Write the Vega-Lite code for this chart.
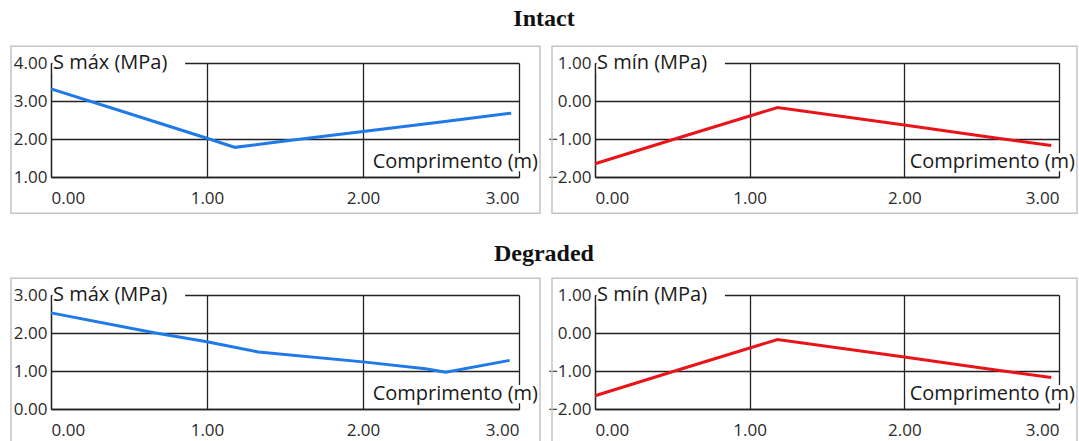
{
  "$schema": "https://vega.github.io/schema/vega-lite/v6.json",
  "padding": {"left": 10, "top": 6, "right": 4, "bottom": 0},
  "background": "white",
  "spacing": 26,
  "config": {
    "view": {"stroke": null},
    "font": "Open Sans",
    "axis": {
      "labelFont": "Open Sans", "labelFontSize": 17, "labelColor": "#2a2a2a",
      "grid": true, "gridColor": "#222222", "gridWidth": 1.3, "gridOpacity": 1,
      "domain": true, "domainColor": "#222222", "domainWidth": 1.3,
      "ticks": false, "title": null, "format": ".2f", "labelOverlap": false
    },
    "axisX": {"labelPadding": 13},
    "axisY": {"labelPadding": 4},
    "text": {"font": "Open Sans", "fontSize": 20, "color": "#1a1a1a"}
  },
  "datasets": {
    "intact_max": [
      {"comprimento": 0.0, "tensao": 3.32},
      {"comprimento": 0.5, "tensao": 2.67},
      {"comprimento": 1.0, "tensao": 2.02},
      {"comprimento": 1.18, "tensao": 1.78},
      {"comprimento": 1.5, "tensao": 1.95},
      {"comprimento": 2.0, "tensao": 2.2},
      {"comprimento": 2.5, "tensao": 2.45},
      {"comprimento": 2.95, "tensao": 2.68}
    ],
    "intact_min": [
      {"comprimento": 0.0, "tensao": -1.65},
      {"comprimento": 0.5, "tensao": -1.02},
      {"comprimento": 1.18, "tensao": -0.17},
      {"comprimento": 2.0, "tensao": -0.63},
      {"comprimento": 2.5, "tensao": -0.92},
      {"comprimento": 2.95, "tensao": -1.17}
    ],
    "degraded_max": [
      {"comprimento": 0.0, "tensao": 2.53},
      {"comprimento": 0.67, "tensao": 2.0},
      {"comprimento": 1.0, "tensao": 1.77},
      {"comprimento": 1.33, "tensao": 1.5},
      {"comprimento": 2.0, "tensao": 1.24},
      {"comprimento": 2.4, "tensao": 1.06},
      {"comprimento": 2.53, "tensao": 0.97},
      {"comprimento": 2.94, "tensao": 1.28}
    ],
    "degraded_min": [
      {"comprimento": 0.0, "tensao": -1.65},
      {"comprimento": 0.5, "tensao": -1.02},
      {"comprimento": 1.18, "tensao": -0.17},
      {"comprimento": 2.0, "tensao": -0.63},
      {"comprimento": 2.5, "tensao": -0.92},
      {"comprimento": 2.95, "tensao": -1.17}
    ]
  },
  "vconcat": [
    {
      "title": {"text": "Intact", "font": "Liberation Serif", "fontSize": 24, "fontWeight": "bold", "anchor": "middle", "offset": 15, "color": "#111"},
      "spacing": 6,
      "hconcat": [
        {
          "width": 468, "height": 114,
          "layer": [
            {"data": {"values": [{}]}, "mark": {"type": "rect", "fill": null, "stroke": "#c4c4c4", "strokeWidth": 1.5, "clip": false},
             "encoding": {
               "x": {"datum": -0.2564, "scale": {"domain": [0, 3], "nice": false, "zero": false}, "axis": {"values": [0, 1, 2, 3]}},
               "x2": {"datum": 3.1346},
               "y": {"datum": 4.44, "scale": {"domain": [1, 4], "nice": false, "zero": false}, "axis": {"values": [1, 2, 3, 4]}},
               "y2": {"datum": 0.045}}},
            {"data": {"values": [{}]}, "mark": {"type": "rect", "fill": "white", "clip": false},
             "encoding": {"x": {"datum": 0.01, "scale": {"domain": [0, 3], "nice": false, "zero": false}, "axis": {"values": [0, 1, 2, 3]}}, "x2": {"datum": 0.86}, "y": {"datum": 3.72, "scale": {"domain": [1, 4], "nice": false, "zero": false}, "axis": {"values": [1, 2, 3, 4]}}, "y2": {"datum": 4.28}}},
            {"data": {"values": [{}]}, "mark": {"type": "rect", "fill": "white", "clip": false},
             "encoding": {"x": {"datum": 2.04, "scale": {"domain": [0, 3], "nice": false, "zero": false}, "axis": {"values": [0, 1, 2, 3]}}, "x2": {"datum": 3.128}, "y": {"datum": 1.15, "scale": {"domain": [1, 4], "nice": false, "zero": false}, "axis": {"values": [1, 2, 3, 4]}}, "y2": {"datum": 1.63}}},
            {"data": {"name": "intact_max"}, "mark": {"type": "line", "color": "#1f7ae8", "strokeWidth": 3},
             "encoding": {
               "x": {"field": "comprimento", "type": "quantitative", "scale": {"domain": [0, 3], "nice": false, "zero": false}, "axis": {"values": [0, 1, 2, 3]}},
               "y": {"field": "tensao", "type": "quantitative", "scale": {"domain": [1, 4], "nice": false, "zero": false}, "axis": {"values": [1, 2, 3, 4]}}}},
            {"data": {"values": [{}]}, "mark": {"type": "text", "align": "left", "baseline": "middle", "dx": 2, "clip": false, "text": "S máx (MPa)"},
             "encoding": {"x": {"datum": 0, "scale": {"domain": [0, 3], "nice": false, "zero": false}, "axis": {"values": [0, 1, 2, 3]}}, "y": {"datum": 4, "scale": {"domain": [1, 4], "nice": false, "zero": false}, "axis": {"values": [1, 2, 3, 4]}}}},
            {"data": {"values": [{}]}, "mark": {"type": "text", "align": "right", "baseline": "middle", "dx": 19, "clip": false, "text": "Comprimento (m)"},
             "encoding": {"x": {"datum": 3, "scale": {"domain": [0, 3], "nice": false, "zero": false}, "axis": {"values": [0, 1, 2, 3]}}, "y": {"datum": 1.39, "scale": {"domain": [1, 4], "nice": false, "zero": false}, "axis": {"values": [1, 2, 3, 4]}}}}
          ]
        },
        {
          "width": 464, "height": 114,
          "layer": [
            {"data": {"values": [{}]}, "mark": {"type": "rect", "fill": null, "stroke": "#c4c4c4", "strokeWidth": 1.5, "clip": false},
             "encoding": {
               "x": {"datum": -0.278, "scale": {"domain": [0, 3], "nice": false, "zero": false}, "axis": {"values": [0, 1, 2, 3]}},
               "x2": {"datum": 3.116},
               "y": {"datum": 1.44, "scale": {"domain": [-2, 1], "nice": false, "zero": false}, "axis": {"values": [-2, -1, 0, 1]}},
               "y2": {"datum": -2.955}}},
            {"data": {"values": [{}]}, "mark": {"type": "rect", "fill": "white", "clip": false},
             "encoding": {"x": {"datum": 0.01, "scale": {"domain": [0, 3], "nice": false, "zero": false}, "axis": {"values": [0, 1, 2, 3]}}, "x2": {"datum": 0.84}, "y": {"datum": 0.72, "scale": {"domain": [-2, 1], "nice": false, "zero": false}, "axis": {"values": [-2, -1, 0, 1]}}, "y2": {"datum": 1.28}}},
            {"data": {"values": [{}]}, "mark": {"type": "rect", "fill": "white", "clip": false},
             "encoding": {"x": {"datum": 2.04, "scale": {"domain": [0, 3], "nice": false, "zero": false}, "axis": {"values": [0, 1, 2, 3]}}, "x2": {"datum": 3.105}, "y": {"datum": -1.85, "scale": {"domain": [-2, 1], "nice": false, "zero": false}, "axis": {"values": [-2, -1, 0, 1]}}, "y2": {"datum": -1.37}}},
            {"data": {"name": "intact_min"}, "mark": {"type": "line", "color": "#e8141a", "strokeWidth": 3},
             "encoding": {
               "x": {"field": "comprimento", "type": "quantitative", "scale": {"domain": [0, 3], "nice": false, "zero": false}, "axis": {"values": [0, 1, 2, 3]}},
               "y": {"field": "tensao", "type": "quantitative", "scale": {"domain": [-2, 1], "nice": false, "zero": false}, "axis": {"values": [-2, -1, 0, 1]}}}},
            {"data": {"values": [{}]}, "mark": {"type": "text", "align": "left", "baseline": "middle", "dx": 2, "clip": false, "text": "S mín (MPa)"},
             "encoding": {"x": {"datum": 0, "scale": {"domain": [0, 3], "nice": false, "zero": false}, "axis": {"values": [0, 1, 2, 3]}}, "y": {"datum": 1, "scale": {"domain": [-2, 1], "nice": false, "zero": false}, "axis": {"values": [-2, -1, 0, 1]}}}},
            {"data": {"values": [{}]}, "mark": {"type": "text", "align": "right", "baseline": "middle", "dx": 16, "clip": false, "text": "Comprimento (m)"},
             "encoding": {"x": {"datum": 3, "scale": {"domain": [0, 3], "nice": false, "zero": false}, "axis": {"values": [0, 1, 2, 3]}}, "y": {"datum": -1.61, "scale": {"domain": [-2, 1], "nice": false, "zero": false}, "axis": {"values": [-2, -1, 0, 1]}}}}
          ]
        }
      ]
    },
    {
      "title": {"text": "Degraded", "font": "Liberation Serif", "fontSize": 24, "fontWeight": "bold", "anchor": "middle", "offset": 12, "color": "#111"},
      "spacing": 6,
      "hconcat": [
        {
          "width": 468, "height": 114,
          "layer": [
            {"data": {"values": [{}]}, "mark": {"type": "rect", "fill": null, "stroke": "#c4c4c4", "strokeWidth": 1.5, "clip": false},
             "encoding": {
               "x": {"datum": -0.2564, "scale": {"domain": [0, 3], "nice": false, "zero": false}, "axis": {"values": [0, 1, 2, 3]}},
               "x2": {"datum": 3.1346},
               "y": {"datum": 3.44, "scale": {"domain": [0, 3], "nice": false, "zero": false}, "axis": {"values": [0, 1, 2, 3]}},
               "y2": {"datum": -0.955}}},
            {"data": {"values": [{}]}, "mark": {"type": "rect", "fill": "white", "clip": false},
             "encoding": {"x": {"datum": 0.01, "scale": {"domain": [0, 3], "nice": false, "zero": false}, "axis": {"values": [0, 1, 2, 3]}}, "x2": {"datum": 0.86}, "y": {"datum": 2.72, "scale": {"domain": [0, 3], "nice": false, "zero": false}, "axis": {"values": [0, 1, 2, 3]}}, "y2": {"datum": 3.28}}},
            {"data": {"values": [{}]}, "mark": {"type": "rect", "fill": "white", "clip": false},
             "encoding": {"x": {"datum": 2.04, "scale": {"domain": [0, 3], "nice": false, "zero": false}, "axis": {"values": [0, 1, 2, 3]}}, "x2": {"datum": 3.128}, "y": {"datum": 0.15, "scale": {"domain": [0, 3], "nice": false, "zero": false}, "axis": {"values": [0, 1, 2, 3]}}, "y2": {"datum": 0.63}}},
            {"data": {"name": "degraded_max"}, "mark": {"type": "line", "color": "#1f7ae8", "strokeWidth": 3},
             "encoding": {
               "x": {"field": "comprimento", "type": "quantitative", "scale": {"domain": [0, 3], "nice": false, "zero": false}, "axis": {"values": [0, 1, 2, 3]}},
               "y": {"field": "tensao", "type": "quantitative", "scale": {"domain": [0, 3], "nice": false, "zero": false}, "axis": {"values": [0, 1, 2, 3]}}}},
            {"data": {"values": [{}]}, "mark": {"type": "text", "align": "left", "baseline": "middle", "dx": 2, "clip": false, "text": "S máx (MPa)"},
             "encoding": {"x": {"datum": 0, "scale": {"domain": [0, 3], "nice": false, "zero": false}, "axis": {"values": [0, 1, 2, 3]}}, "y": {"datum": 3, "scale": {"domain": [0, 3], "nice": false, "zero": false}, "axis": {"values": [0, 1, 2, 3]}}}},
            {"data": {"values": [{}]}, "mark": {"type": "text", "align": "right", "baseline": "middle", "dx": 19, "clip": false, "text": "Comprimento (m)"},
             "encoding": {"x": {"datum": 3, "scale": {"domain": [0, 3], "nice": false, "zero": false}, "axis": {"values": [0, 1, 2, 3]}}, "y": {"datum": 0.39, "scale": {"domain": [0, 3], "nice": false, "zero": false}, "axis": {"values": [0, 1, 2, 3]}}}}
          ]
        },
        {
          "width": 464, "height": 114,
          "layer": [
            {"data": {"values": [{}]}, "mark": {"type": "rect", "fill": null, "stroke": "#c4c4c4", "strokeWidth": 1.5, "clip": false},
             "encoding": {
               "x": {"datum": -0.278, "scale": {"domain": [0, 3], "nice": false, "zero": false}, "axis": {"values": [0, 1, 2, 3]}},
               "x2": {"datum": 3.116},
               "y": {"datum": 1.44, "scale": {"domain": [-2, 1], "nice": false, "zero": false}, "axis": {"values": [-2, -1, 0, 1]}},
               "y2": {"datum": -2.955}}},
            {"data": {"values": [{}]}, "mark": {"type": "rect", "fill": "white", "clip": false},
             "encoding": {"x": {"datum": 0.01, "scale": {"domain": [0, 3], "nice": false, "zero": false}, "axis": {"values": [0, 1, 2, 3]}}, "x2": {"datum": 0.84}, "y": {"datum": 0.72, "scale": {"domain": [-2, 1], "nice": false, "zero": false}, "axis": {"values": [-2, -1, 0, 1]}}, "y2": {"datum": 1.28}}},
            {"data": {"values": [{}]}, "mark": {"type": "rect", "fill": "white", "clip": false},
             "encoding": {"x": {"datum": 2.04, "scale": {"domain": [0, 3], "nice": false, "zero": false}, "axis": {"values": [0, 1, 2, 3]}}, "x2": {"datum": 3.105}, "y": {"datum": -1.85, "scale": {"domain": [-2, 1], "nice": false, "zero": false}, "axis": {"values": [-2, -1, 0, 1]}}, "y2": {"datum": -1.37}}},
            {"data": {"name": "degraded_min"}, "mark": {"type": "line", "color": "#e8141a", "strokeWidth": 3},
             "encoding": {
               "x": {"field": "comprimento", "type": "quantitative", "scale": {"domain": [0, 3], "nice": false, "zero": false}, "axis": {"values": [0, 1, 2, 3]}},
               "y": {"field": "tensao", "type": "quantitative", "scale": {"domain": [-2, 1], "nice": false, "zero": false}, "axis": {"values": [-2, -1, 0, 1]}}}},
            {"data": {"values": [{}]}, "mark": {"type": "text", "align": "left", "baseline": "middle", "dx": 2, "clip": false, "text": "S mín (MPa)"},
             "encoding": {"x": {"datum": 0, "scale": {"domain": [0, 3], "nice": false, "zero": false}, "axis": {"values": [0, 1, 2, 3]}}, "y": {"datum": 1, "scale": {"domain": [-2, 1], "nice": false, "zero": false}, "axis": {"values": [-2, -1, 0, 1]}}}},
            {"data": {"values": [{}]}, "mark": {"type": "text", "align": "right", "baseline": "middle", "dx": 16, "clip": false, "text": "Comprimento (m)"},
             "encoding": {"x": {"datum": 3, "scale": {"domain": [0, 3], "nice": false, "zero": false}, "axis": {"values": [0, 1, 2, 3]}}, "y": {"datum": -1.61, "scale": {"domain": [-2, 1], "nice": false, "zero": false}, "axis": {"values": [-2, -1, 0, 1]}}}}
          ]
        }
      ]
    }
  ]
}
